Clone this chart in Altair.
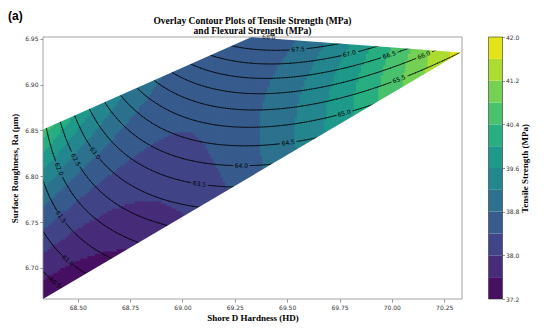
import math
import numpy as np
import pandas as pd
import altair as alt

# ---------------- axes ----------------
X_DOMAIN = [68.334, 70.335]
Y_DOMAIN = [6.666, 6.952]
X_TICKS = [68.50, 68.75, 69.00, 69.25, 69.50, 69.75, 70.00, 70.25]
Y_TICKS = [6.70, 6.75, 6.80, 6.85, 6.90, 6.95]

# design region (corners of the convex hull, counter-clockwise)
HULL_X = [68.334, 70.330, 69.330, 68.334]
HULL_Y = [6.666, 6.935, 6.952, 6.851]

# ---------------- tensile strength (filled bands) ----------------
TS_LEVELS = [37.2, 37.6, 38.0, 38.4, 38.8, 39.2, 39.6, 40.0, 40.4, 40.8, 41.2, 41.6, 42.0]
TS_COLORS = ["#471063", "#472c7a", "#414487", "#375b8d", "#2c728e", "#24868e",
             "#1f9a8a", "#28ae80", "#4ac16d", "#75d054", "#addc30", "#e2e418"]
TS_TICKS = [37.2, 38.0, 38.8, 39.6, 40.4, 41.2, 42.0]

# tensile strength at points (x, y, value)
TS_PT_X = [68.341, 68.341, 68.341, 68.341, 68.341, 68.341, 68.341, 68.341, 68.341,
           68.417, 68.561, 68.704, 68.895, 69.110, 69.301,
           68.609, 68.522, 68.723,
           68.848, 68.718, 68.958, 68.513, 68.561, 68.718,
           69.039, 69.087, 69.192, 69.216,
           69.326, 69.421, 69.598, 69.756, 69.914, 70.028, 70.114, 70.194, 70.257, 70.319,
           69.813, 69.493, 69.656, 70.074, 70.172, 69.961]
TS_PT_Y = [6.6693, 6.6868, 6.7022, 6.7219, 6.7493, 6.7789, 6.8009, 6.8184, 6.8404,
           6.8601, 6.8743, 6.8886, 6.9083, 6.9303, 6.9500,
           6.8404, 6.8425, 6.8404,
           6.7504, 6.7669, 6.7669, 6.7417, 6.7066, 6.7230,
           6.8513, 6.8075, 6.8623, 6.8129,
           6.9522, 6.9510, 6.9478, 6.9450, 6.9423, 6.9404, 6.9390, 6.9376, 6.9365, 6.9352,
           6.8765, 6.8765, 6.8765, 6.9116, 6.9215, 6.8963]
TS_PT_V = [37.4, 37.4, 37.8, 38.2, 38.6, 39.0, 39.4, 39.8, 40.2,
           40.2, 39.8, 39.4, 39.0, 38.5, 38.1,
           39.0, 39.4, 38.6,
           37.8, 38.0, 38.0, 38.0, 37.6, 37.6,
           38.2, 38.2, 38.3, 38.7,
           38.2, 38.8, 39.2, 39.6, 40.0, 40.4, 40.8, 41.2, 41.6, 41.9,
           40.0, 39.2, 39.6, 40.8, 41.2, 40.4]

# ---------------- flexural strength (contour lines) ----------------
FS_LEVELS = [60.5, 61.0, 61.5, 62.0, 62.5, 63.0, 63.5, 64.0,
             64.5, 65.0, 65.5, 66.0, 66.5, 67.0, 67.5, 68.0]

# points (x, y, level)
FS_PT_X = [68.336, 68.369,
           68.336, 68.451, 68.532,
           68.336, 68.432, 68.551, 68.680,
           68.360, 68.422, 68.561, 68.752,
           68.403, 68.503, 68.656, 68.848,
           68.475, 68.580, 68.752, 68.967,
           68.551, 68.704, 68.895, 69.087, 69.230,
           68.632, 68.848, 69.087, 69.278, 69.421,
           68.714, 68.895, 69.134, 69.278, 69.507, 69.651,
           68.800, 69.278, 69.765,
           68.886, 69.278, 70.038,
           68.967, 69.278, 70.152,
           69.048, 69.278, 69.985,
           69.134, 69.278, 69.794,
           69.220, 69.555, 69.708,
           69.300, 69.359, 69.420]
FS_PT_Y = [6.7000, 6.6792,
           6.7395, 6.7088, 6.6934,
           6.7855, 6.7592, 6.7285, 6.7132,
           6.8404, 6.8096, 6.7614, 6.7351,
           6.8579, 6.8184, 6.7746, 6.7526,
           6.8656, 6.8239, 6.7855, 6.7658,
           6.8732, 6.8294, 6.8020, 6.7910, 6.7866,
           6.8820, 6.8261, 6.8151, 6.8129, 6.8129,
           6.8897, 6.8513, 6.8349, 6.8327, 6.8393, 6.8436,
           6.8985, 6.8513, 6.8711,
           6.9072, 6.8711, 6.9039,
           6.9149, 6.8897, 6.9303,
           6.9237, 6.9061, 6.9325,
           6.9314, 6.9259, 6.9357,
           6.9412, 6.9423, 6.9456,
           6.9495, 6.9505, 6.9500]
FS_PT_V = [60.5, 60.5,
           61.0, 61.0, 61.0,
           61.5, 61.5, 61.5, 61.5,
           62.0, 62.0, 62.0, 62.0,
           62.5, 62.5, 62.5, 62.5,
           63.0, 63.0, 63.0, 63.0,
           63.5, 63.5, 63.5, 63.5, 63.5,
           64.0, 64.0, 64.0, 64.0, 64.0,
           64.5, 64.5, 64.5, 64.5, 64.5, 64.5,
           65.0, 65.0, 65.0,
           65.5, 65.5, 65.5,
           66.0, 66.0, 66.0,
           66.5, 66.5, 66.5,
           67.0, 67.0, 67.0,
           67.5, 67.5, 67.5,
           68.0, 68.0, 68.0]

# where the inline labels sit (one per level)
FS_LABEL_X = [68.365, 68.451, 68.432, 68.422, 68.503, 68.580, 69.087, 69.278,
              69.507, 69.765, 70.038, 70.152, 69.985, 69.794, 69.555, 69.359]
FS_LABEL_Y = [6.6781, 6.7088, 6.7581, 6.8096, 6.8184, 6.8239, 6.7910, 6.8129,
              6.8393, 6.8711, 6.9039, 6.9303, 6.9325, 6.9357, 6.9423, 6.9511]

TITLE_LINES = ["Overlay Contour Plots of Tensile Strength (MPa)", "and Flexural Strength (MPa)"]

# ---------------- layout ----------------
W, H = 419, 262
KX = W / (X_DOMAIN[1] - X_DOMAIN[0])
KY = H / (Y_DOMAIN[1] - Y_DOMAIN[0])


def feats(x, y):
    u = (np.asarray(x, float) - 69.33) / 0.5
    v = (np.asarray(y, float) - 6.81) / 0.075
    return np.stack([np.ones_like(u), u, v, u * u, u * v, v * v,
                     u ** 3, u * u * v, u * v * v, v ** 3], axis=-1)


def fit(xs, ys, vs):
    coef, *_ = np.linalg.lstsq(feats(xs, ys), np.asarray(vs, float), rcond=None)
    return lambda x, y: feats(x, y) @ coef


ts_fun = fit(TS_PT_X, TS_PT_Y, TS_PT_V)
fs_fun = fit(FS_PT_X, FS_PT_Y, FS_PT_V)


def inside(x, y):
    ok = np.ones_like(x, dtype=bool)
    n = len(HULL_X)
    for k in range(n):
        ax, ay = HULL_X[k], HULL_Y[k]
        bx, by = HULL_X[(k + 1) % n], HULL_Y[(k + 1) % n]
        cr = (bx - ax) * (y - ay) - (by - ay) * (x - ax)
        ok &= cr >= -1e-12
    return ok


NX, NY = 170, 110
gx = np.linspace(X_DOMAIN[0], X_DOMAIN[1], NX + 1)
gy = np.linspace(Y_DOMAIN[0], Y_DOMAIN[1], NY + 1)
dxc, dyc = gx[1] - gx[0], gy[1] - gy[0]
GX, GY = np.meshgrid(gx, gy)
NIN = inside(GX, GY)
cx = (gx[:-1] + gx[1:]) / 2
cy = (gy[:-1] + gy[1:]) / 2
CX, CY = np.meshgrid(cx, cy)
# a cell is used when any of its corners (or its centre) lies in the region
USE = NIN[:-1, :-1] | NIN[:-1, 1:] | NIN[1:, :-1] | NIN[1:, 1:] | inside(CX, CY)
TSV = ts_fun(CX, CY)

jj, ii = np.nonzero(USE)
cells = pd.DataFrame({
    "x0": gx[ii], "x1": gx[ii] + dxc * 1.6,
    "y0": gy[jj], "y1": gy[jj] + dyc * 1.6,
    "ts": np.round(TSV[jj, ii], 3),
})

# contour lines of flexural strength (marching squares)
FN = fs_fun(GX, GY)
z00, z10 = FN[:-1, :-1], FN[:-1, 1:]
z11, z01 = FN[1:, 1:], FN[1:, :-1]
zmin = np.minimum(np.minimum(z00, z10), np.minimum(z11, z01))
zmax = np.maximum(np.maximum(z00, z10), np.maximum(z11, z01))
rows = []
labels = []
for li, lev in enumerate(FS_LEVELS):
    segs = []
    js, is_ = np.nonzero(USE & (zmin < lev) & (zmax > lev))
    for j, i in zip(js, is_):
        corners = [(gx[i], gy[j], FN[j, i]), (gx[i + 1], gy[j], FN[j, i + 1]),
                   (gx[i + 1], gy[j + 1], FN[j + 1, i + 1]), (gx[i], gy[j + 1], FN[j + 1, i])]
        pts = []
        for k in range(4):
            xa, ya, za = corners[k]
            xb, yb, zb = corners[(k + 1) % 4]
            if (za - lev) * (zb - lev) < 0:
                t = (lev - za) / (zb - za)
                pts.append((xa + t * (xb - xa), ya + t * (yb - ya)))
        if len(pts) >= 2:
            segs.append((pts[0], pts[1]))
        if len(pts) == 4:
            segs.append((pts[2], pts[3]))
    if not segs:
        continue
    mids = np.array([((a[0] + b[0]) / 2, (a[1] + b[1]) / 2) for a, b in segs])
    ok_mid = inside(mids[:, 0], mids[:, 1])
    lp = np.array([FS_LABEL_X[li], FS_LABEL_Y[li]])
    d = np.hypot((mids[:, 0] - lp[0]) * KX, (mids[:, 1] - lp[1]) * KY)
    d[~ok_mid] = 1e9
    k0 = int(np.argmin(d))
    (ax_, ay_), (bx_, by_) = segs[k0]
    lx, ly = (ax_ + bx_) / 2, (ay_ + by_) / 2
    sx, sy = (bx_ - ax_) * KX, -(by_ - ay_) * KY
    ang = math.degrees(math.atan2(sy, sx))
    if ang > 90:
        ang -= 180
    if ang < -90:
        ang += 180
    labels.append({"x": lx, "y": ly, "lab": f"{lev:.1f}", "ang": ang % 360})
    dl = np.hypot((mids[:, 0] - lx) * KX, (mids[:, 1] - ly) * KY)
    for (a, b), dd in zip(segs, dl):
        if dd > 8.5:
            rows.append({"x": a[0], "y": a[1], "x2": b[0], "y2": b[1]})

lines = pd.DataFrame(rows)
labs = pd.DataFrame(labels)

# white masks outside the region (upper and lower parts)
upper = pd.DataFrame({"x": [HULL_X[3], HULL_X[2], HULL_X[1], X_DOMAIN[1]],
                      "y": [HULL_Y[3], HULL_Y[2], HULL_Y[1], HULL_Y[1]],
                      "top": [Y_DOMAIN[1]] * 4})
lower = pd.DataFrame({"x": [HULL_X[0], HULL_X[1], X_DOMAIN[1]],
                      "y": [HULL_Y[0], HULL_Y[1], HULL_Y[1]],
                      "bot": [Y_DOMAIN[0]] * 3})

xscale = alt.Scale(domain=X_DOMAIN, nice=False, zero=False)
yscale = alt.Scale(domain=Y_DOMAIN, nice=False, zero=False)
xaxis = alt.Axis(values=X_TICKS, format=".2f", title="Shore D Hardness (HD)", titlePadding=3)
yaxis = alt.Axis(values=Y_TICKS, format=".2f", title="Surface Roughness, Ra (µm)", titlePadding=5)
cscale = alt.Scale(type="threshold", domain=TS_LEVELS[1:-1], range=TS_COLORS)


def X(f):
    return alt.X(f, scale=xscale, axis=xaxis)


def Y(f):
    return alt.Y(f, scale=yscale, axis=yaxis)


fill = alt.Chart(cells).mark_rect(clip=True).encode(
    x=X("x0:Q"), x2="x1:Q", y=Y("y0:Q"), y2="y1:Q",
    color=alt.Color("ts:Q", scale=cscale, legend=None),
)

clines = alt.Chart(lines).mark_rule(color="black", strokeWidth=0.7, strokeCap="round", clip=True).encode(
    x=X("x:Q"), y=Y("y:Q"), x2="x2:Q", y2="y2:Q",
)

mask_up = alt.Chart(upper).mark_area(color="white", clip=True, interpolate="linear").encode(
    x=X("x:Q"), y=Y("y:Q"), y2="top:Q")
mask_lo = alt.Chart(lower).mark_area(color="white", clip=True, interpolate="linear").encode(
    x=X("x:Q"), y=Y("y:Q"), y2="bot:Q")

ctext = alt.Chart(labs).mark_text(font="DejaVu Sans", fontSize=6, color="black",
                                  align="center", baseline="middle").encode(
    x=X("x:Q"), y=Y("y:Q"), text="lab:N",
    angle=alt.Angle("ang:Q", scale=None),
)

frame = alt.Chart(pd.DataFrame({"k": [0]})).mark_rect(
    fillOpacity=0, stroke="#8c8c8c", strokeWidth=0.8
).encode(x=alt.value(0), x2=alt.value(W), y=alt.value(0), y2=alt.value(H))

tag = alt.Chart(pd.DataFrame({"t": ["(a)"]})).mark_text(
    font="Liberation Sans", fontSize=12, fontWeight="bold", align="left", baseline="middle"
).encode(x=alt.value(-35), y=alt.value(-21), text="t:N")

title1 = alt.Chart(pd.DataFrame({"t": [TITLE_LINES[0]]})).mark_text(
    font="Liberation Serif", fontSize=9.5, fontWeight="bold", align="center", baseline="middle"
).encode(x=alt.value(W / 2), y=alt.value(-16), text="t:N")
title2 = alt.Chart(pd.DataFrame({"t": [TITLE_LINES[1]]})).mark_text(
    font="Liberation Serif", fontSize=9.5, fontWeight="bold", align="center", baseline="middle"
).encode(x=alt.value(W / 2), y=alt.value(-6.5), text="t:N")

main = alt.layer(fill, clines, mask_up, mask_lo, ctext, frame, tag, title1, title2)

cb_df = pd.DataFrame({"lo": TS_LEVELS[:-1], "hi": TS_LEVELS[1:]})
cb_df["mid"] = (cb_df["lo"] + cb_df["hi"]) / 2
cb_y = alt.Y("lo:Q", scale=alt.Scale(domain=[TS_LEVELS[0], TS_LEVELS[-1]], nice=False, zero=False),
             axis=alt.Axis(orient="right", values=TS_TICKS, format=".1f", offset=40,
                           title="Tensile Strength (MPa)", titleAngle=270, titlePadding=11,
                           domain=False, tickSize=2.5, labelPadding=1))
cbar = alt.Chart(cb_df).mark_rect().encode(
    x=alt.value(445.5), x2=alt.value(459.5), y=cb_y, y2="hi:Q",
    color=alt.Color("mid:Q", scale=cscale, legend=None),
)
cframe = alt.Chart(pd.DataFrame({"lo": [TS_LEVELS[0]], "hi": [TS_LEVELS[-1]]})).mark_rect(
    fillOpacity=0, stroke="#333", strokeWidth=0.6
).encode(x=alt.value(445.5), x2=alt.value(459.5), y=cb_y, y2="hi:Q")
colorbar = alt.layer(cbar, cframe)

chart = alt.layer(main, colorbar).resolve_scale(y="independent").properties(
    width=W, height=H,
    padding={"left": 0, "top": 2, "right": 5, "bottom": 5},
).configure_view(stroke=None).configure_axis(
    grid=False, domain=False, tickColor="#666", tickSize=3, tickWidth=0.7,
    labelFont="DejaVu Sans", labelFontSize=6, labelColor="#333",
    titleFont="Liberation Serif", titleFontWeight="bold", titleFontSize=9, titleColor="black",
)

chart.save("out.html", embed_options={"renderer": "svg", "actions": False})
